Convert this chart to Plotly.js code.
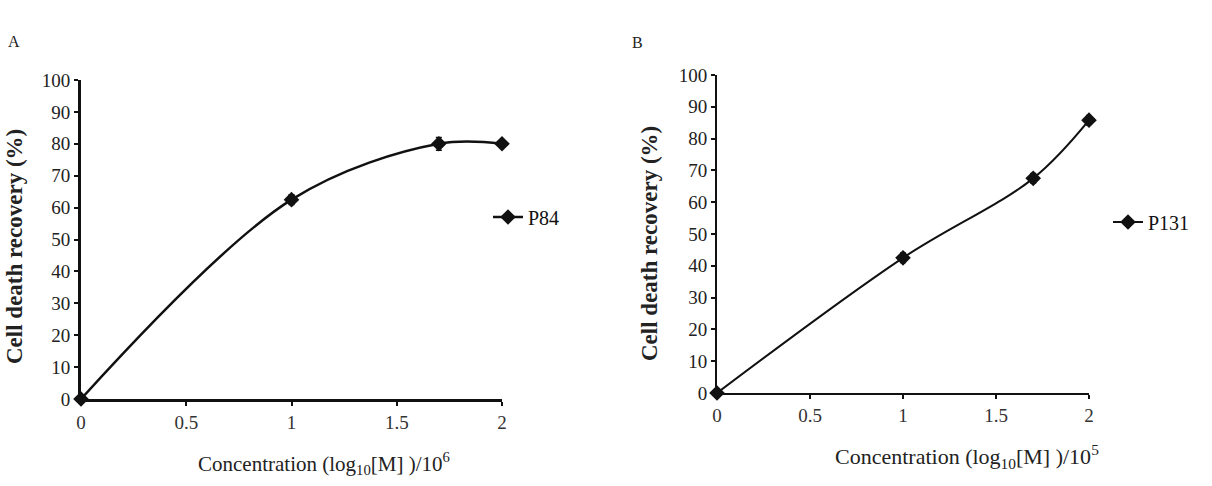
<!DOCTYPE html>
<html><head><meta charset="utf-8">
<script src="https://cdn.plot.ly/plotly-3.0.1.min.js"></script>
<style>html,body{margin:0;padding:0;background:#fff}#chart{width:1212px;height:486px}</style>
</head><body><div id="chart"></div>
<script>
// Panel A (P84)
const concA = [0, 1, 1.7, 2];
const recoveryA = [0, 62.5, 80, 80];
const errA = [0, 1.5, 2, 1];
// Panel B (P131)
const concB = [0, 1, 1.7, 2];
const recoveryB = [0, 42.5, 67.5, 85.8];
const errB = [0.5, 1.5, 1.5, 1.5];
const xTicks = [0, 0.5, 1, 1.5, 2];
const xTickLabels = ['0', '0.5', '1', '1.5', '2'];
const yTicks = [0, 10, 20, 30, 40, 50, 60, 70, 80, 90, 100];

const W = 1212, H = 486;
const px = v => v / W, py = v => (H - v) / H;
const serif = 'Liberation Serif, Times New Roman, serif';

const traceStyle = {
  type: 'scatter', mode: 'lines+markers',
  line: {color: '#111', width: 2.5, shape: 'spline', smoothing: 1},
  marker: {symbol: 'diamond', size: 12, color: '#111'},
  cliponaxis: false
};

const traces = [
  Object.assign({}, traceStyle, {x: concA, y: recoveryA, name: 'P84', xaxis: 'x', yaxis: 'y', legend: 'legend',
    error_y: {type: 'data', array: errA, color: '#111', thickness: 1.5, width: 3}}),
  Object.assign({}, traceStyle, {x: concB, y: recoveryB, name: 'P131', xaxis: 'x2', yaxis: 'y2', legend: 'legend2',
    line: {color: '#111', width: 2, shape: 'spline', smoothing: 1},
    error_y: {type: 'data', array: errB, color: '#111', thickness: 1.5, width: 3}})
];

function xax(domain, lw, anchor) {
  return {domain: domain, range: [0, 2], anchor: anchor, tickvals: xTicks, ticktext: xTickLabels,
    showline: true, linecolor: '#111', linewidth: lw, ticks: 'outside', ticklen: 4, tickwidth: 2, tickcolor: '#111',
    showgrid: false, zeroline: false, tickfont: {family: serif, size: 19, color: '#333'}, fixedrange: true};
}
function yax(domain, lw, anchor) {
  return {domain: domain, range: [0, 100], anchor: anchor, tickvals: yTicks,
    showline: true, linecolor: '#111', linewidth: lw, ticks: 'outside', ticklen: 4, tickwidth: 2, tickcolor: '#111',
    showgrid: false, zeroline: false, tickfont: {family: serif, size: 19, color: '#222'}, fixedrange: true};
}

const yTitleFont = {family: serif, size: 23, color: '#222', weight: 'bold'};

const layout = {
  width: W, height: H,
  margin: {l: 0, r: 0, t: 0, b: 0},
  paper_bgcolor: '#fff', plot_bgcolor: '#fff',
  showlegend: true,
  xaxis: xax([px(81), px(502)], 3, 'y'),
  yaxis: yax([py(399), py(80)], 3, 'x'),
  xaxis2: xax([px(717), px(1089)], 2, 'y2'),
  yaxis2: yax([py(393), py(75)], 2, 'x2'),
  legend: {x: px(488), y: py(217), xanchor: 'left', yanchor: 'middle', bgcolor: 'rgba(0,0,0,0)',
    font: {family: serif, size: 20, color: '#111'}, itemwidth: 30},
  legend2: {x: px(1108), y: py(222), xanchor: 'left', yanchor: 'middle', bgcolor: 'rgba(0,0,0,0)',
    font: {family: serif, size: 20, color: '#111'}, itemwidth: 30},
  annotations: [
    {text: 'A', x: px(6), y: py(41), xref: 'paper', yref: 'paper', xanchor: 'left', yanchor: 'middle', showarrow: false, font: {family: serif, size: 16, color: '#222'}},
    {text: 'B', x: px(630), y: py(42), xref: 'paper', yref: 'paper', xanchor: 'left', yanchor: 'middle', showarrow: false, font: {family: serif, size: 16, color: '#222'}},
    {text: 'Cell death recovery (%)', textangle: -90, x: px(15), y: py(247), xref: 'paper', yref: 'paper', xanchor: 'center', yanchor: 'middle', showarrow: false, font: yTitleFont},
    {text: 'Cell death recovery (%)', textangle: -90, x: px(650), y: py(244), xref: 'paper', yref: 'paper', xanchor: 'center', yanchor: 'middle', showarrow: false, font: yTitleFont},
    {text: 'Concentration (log<sub>10</sub>[M] )/10<sup>6</sup>', x: px(324), y: py(463), xref: 'paper', yref: 'paper', xanchor: 'center', yanchor: 'middle', showarrow: false, font: {family: serif, size: 21, color: '#222'}},
    {text: 'Concentration (log<sub>10</sub>[M] )/10<sup>5</sup>', x: px(967), y: py(456), xref: 'paper', yref: 'paper', xanchor: 'center', yanchor: 'middle', showarrow: false, font: {family: serif, size: 22, color: '#222'}}
  ]
};

Plotly.newPlot('chart', traces, layout, {displayModeBar: false, staticPlot: true});
</script>
</body></html>
